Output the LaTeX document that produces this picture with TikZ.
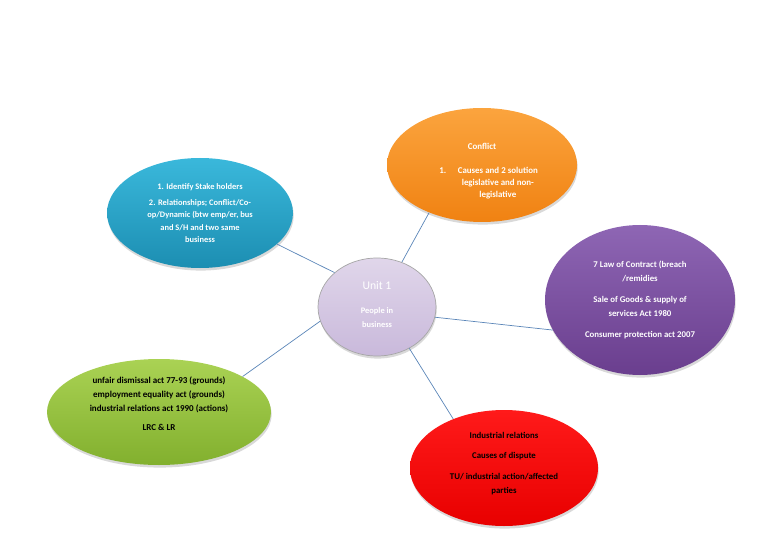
\documentclass[tikz,border=0pt]{standalone}
\usepackage{fontspec}
\setmainfont{Carlito}
\usepackage{xcolor}
\usepackage{tikz}
\usetikzlibrary{shapes,positioning,shadows}

\definecolor{hubtop}{HTML}{E0D6EA}
\definecolor{hubbot}{HTML}{C9B9DB}
\definecolor{linkblue}{HTML}{5B86B8}
\definecolor{bluetop}{HTML}{3AB8DB}
\definecolor{bluebot}{HTML}{1C8EB2}
\definecolor{orangetop}{HTML}{FBA43E}
\definecolor{orangebot}{HTML}{F08212}
\definecolor{purpletop}{HTML}{8E66B4}
\definecolor{purplebot}{HTML}{6A3E8E}
\definecolor{greentop}{HTML}{AAD254}
\definecolor{greenbot}{HTML}{82B02E}
\definecolor{redtop}{HTML}{FF1A1A}
\definecolor{redbot}{HTML}{E80000}

\begin{document}
\begin{tikzpicture}[
    x=0.03cm, y=-0.03cm,
    topic/.style={ellipse, inner sep=0pt, align=center, drop shadow={shadow xshift=0.6pt, shadow yshift=-2.2pt, opacity=0.3},
        font=\fontsize{7.2}{10.7}\selectfont\bfseries},
    hub/.style={topic, draw=black!35, line width=0.6pt, top color=hubtop, bottom color=hubbot, text=white},
    link/.style={draw=linkblue, line width=0.6pt}
]
\useasboundingbox (0,0) rectangle (768,543);

% centre
\node[hub, minimum width=118*0.03cm, minimum height=98*0.03cm, font=\fontsize{7.2}{12}\selectfont\bfseries] (hub) at (377,307)
    {{\fontsize{10}{11}\selectfont\mdseries Unit 1}\\[8pt] People in\\ business\rule[-4pt]{0pt}{4pt}};

% topics round it
\node[topic, minimum width=186*0.03cm, minimum height=110*0.03cm, top color=bluetop, bottom color=bluebot, text=white] (stake) at (200,213)
    {1. Identify Stake holders\\[3pt] 2. Relationships; Conflict/Co-\\ op/Dynamic (btw emp/er, bus\\ and S/H and two same\\ business};
\node[topic, minimum width=190*0.03cm, minimum height=114*0.03cm, top color=orangetop, bottom color=orangebot, text=white,
    font=\fontsize{7.6}{10.2}\selectfont\bfseries] (conflict) at (482,165)
    {\rule{0pt}{16pt}Conflict\\[10pt]
     \hspace*{27pt}\llap{1.\hspace{1.3em}}Causes and 2 solution\\
     \hspace*{27pt}legislative and non-\\
     \hspace*{27pt}legislative};
\node[topic, minimum width=190*0.03cm, minimum height=150*0.03cm, top color=purpletop, bottom color=purplebot, text=white,
    font=\fontsize{7.5}{12}\selectfont\bfseries] (contract) at (640,300)
    {7 Law of Contract (breach\\ /remidies\\[6pt] Sale of Goods \& supply of\\ services Act 1980\\[6pt] Consumer protection act 2007};
\node[topic, minimum width=224*0.03cm, minimum height=106*0.03cm, top color=greentop, bottom color=greenbot, text=black,
    font=\fontsize{7.7}{11.9}\selectfont\bfseries] (acts) at (159,412)
    {unfair dismissal act 77-93 (grounds)\\ employment equality act (grounds)\\ industrial relations act 1990 (actions)\\[5pt] LRC \& LR\rule[-14pt]{0pt}{14pt}};
\node[topic, minimum width=188*0.03cm, minimum height=116*0.03cm, top color=redtop, bottom color=redbot, text=black,
    font=\fontsize{7.5}{12.7}\selectfont\bfseries] (relations) at (504,468)
    {Industrial relations\\[4pt] Causes of dispute\\[5pt] TU/ industrial action/affected\\ parties\rule[-8pt]{0pt}{8pt}};

\draw[link] (stake.338.7) -- (hub.141);
\draw[link] (conflict.222.9) -- (hub.61.9);
\draw[link] (contract.199.9) -- (hub.350.4);
\draw[link] (acts.23.6) -- (hub.194.3);
\draw[link] (relations.136.7) -- (hub.308.3);

\end{tikzpicture}
\end{document}
